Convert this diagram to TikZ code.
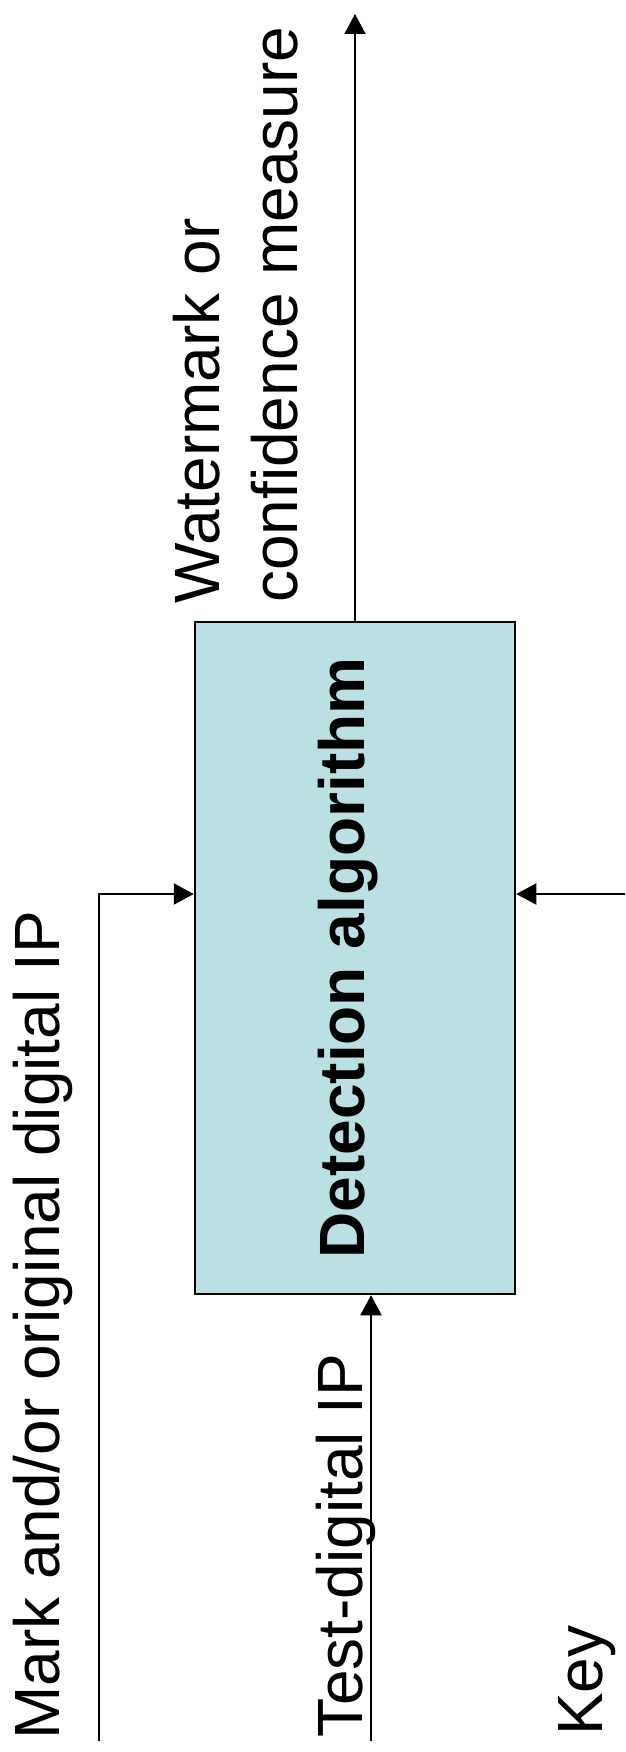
\documentclass[tikz,border=0pt]{standalone}
\usepackage{fontspec}
\setmainfont{Liberation Sans}
\usetikzlibrary{arrows.meta}
\definecolor{boxfill}{RGB}{187,224,227}
\tikzset{
  arr/.style={line width=2pt, -{Triangle[length=20pt,width=21pt]}},
  lbl/.style={rotate=90, anchor=base west, inner sep=0pt, font=\fontsize{64pt}{77pt}\selectfont},
  blbl/.style={rotate=90, anchor=base, inner sep=0pt, font=\fontsize{64pt}{77pt}\selectfont\bfseries},
  algbox/.style={draw, line width=2.5pt, fill=boxfill, minimum width=320pt, minimum height=672pt, inner sep=0pt}
}
\begin{document}
\begin{tikzpicture}[x=1pt,y=-1pt]
\useasboundingbox (0,0) rectangle (625,1752);
\node[algbox] (det) at (355,958) {};
\node[blbl] (detlabel) at (364,958) {Detection algorithm};
% labels
\node[lbl] (wm1) at (219,604) {Watermark or};
\node[lbl] (wm2) at (297,603) {confidence measure};
\node[lbl] (mark) at (59,1740) {Mark and/or original digital IP};
\node[lbl] (test) at (362,1738) {Test-digital IP};
\node[lbl] (key) at (602,1736) {Key};
% free ends
\coordinate (out) at (355,14);
\coordinate (mk) at (99,1741);
\coordinate (tin) at (371,1741);
\coordinate (kin) at (625,894);
% connectors
\draw[arr] (det.north) -- (out);
\draw[arr] (mk) |- ([yshift=64pt]det.west);
\draw[arr] (tin) -- (tin |- det.south);
\draw[arr] (kin) -- ([yshift=64pt]det.east);
\end{tikzpicture}
\end{document}
